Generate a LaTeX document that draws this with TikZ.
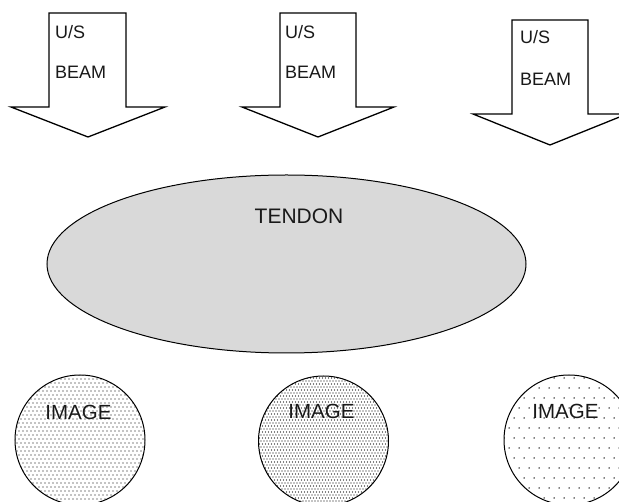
\documentclass[tikz,border=0pt]{standalone}
\usepackage{fontspec}
\setmainfont{Liberation Sans}
\usetikzlibrary{shapes.geometric}
\begin{document}
\begin{tikzpicture}[x=1pt,y=-1pt,
  outline/.style={draw=black,line width=1.3pt,fill=white,line join=miter},
  lbl/.style={anchor=west,inner sep=0pt,font=\fontsize{18}{18}\selectfont,text=black!90},
  big/.style={inner sep=0pt,font=\fontsize{21}{21}\selectfont,text=black!90},
  imgtxt/.style={inner sep=0pt,font=\fontsize{20.5}{20.5}\selectfont,text=black!90},
  disc/.style={draw=black,line width=1pt,circle,minimum size=130pt,inner sep=0pt},
  dotfill/.style={fill=black}]
\useasboundingbox (0,0) rectangle (619,502);
\clip (0,0) rectangle (619,502);

% downward block arrows
\draw[outline] (49,13) -- (126,13) -- (126,107) -- (165,107) -- (88,137) -- (11,107) -- (49,107) -- cycle;
\draw[outline] (280,13) -- (356,13) -- (356,107) -- (394,107) -- (318,137) -- (242,107) -- (280,107) -- cycle;
\draw[outline] (512,20) -- (588,20) -- (588,114) -- (627,114) -- (550,145) -- (473,114) -- (512,114) -- cycle;

\node[lbl] (us1) at (55,32) {U/S};
\node[lbl] (beam1) at (55,72) {BEAM};
\node[lbl] (us2) at (285,32) {U/S};
\node[lbl] (beam2) at (285,72) {BEAM};
\node[lbl] (us3) at (520,37) {U/S};
\node[lbl] (beam3) at (520,79) {BEAM};

% tendon
\node[draw=black,line width=1pt,fill=black!15,ellipse,minimum width=479pt,minimum height=178pt,inner sep=0pt] (tendon) at (286.5,264) {};
\node[big] (tendonlbl) at (299,216) {TENDON};

% dotted images
\begin{scope}
  \clip (80,440) circle (65);
  \fill[dotfill] foreach \i in {0,...,34} { foreach \j in {0,...,34} {
     ({15+4*\i+2*mod(\j,2)},{375+4*\j}) circle (0.7) } };
\end{scope}
\node[disc] (img1) at (80,440) {};

\begin{scope}
  \clip (323.5,441) circle (65);
  \fill[dotfill] foreach \i in {0,...,45} { foreach \j in {0,...,45} {
     ({258+3*\i+1.5*mod(\j,2)},{375+3*\j}) circle (0.68) } };
\end{scope}
\node[disc] (img2) at (323.5,441) {};

\begin{scope}
  \clip (569,440) circle (65);
  \fill[dotfill] foreach \i in {0,...,14} { foreach \j in {0,...,14} {
     ({504+10*\i+5*mod(\j,2)},{378+10*\j}) circle (0.75) } };
\end{scope}
\node[disc] (img3) at (569,440) {};

\node[imgtxt] (imglbl1) at (78.5,412) {IMAGE};
\node[imgtxt] (imglbl2) at (321.5,411) {IMAGE};
\node[imgtxt] (imglbl3) at (565.5,411) {IMAGE};
\end{tikzpicture}
\end{document}
